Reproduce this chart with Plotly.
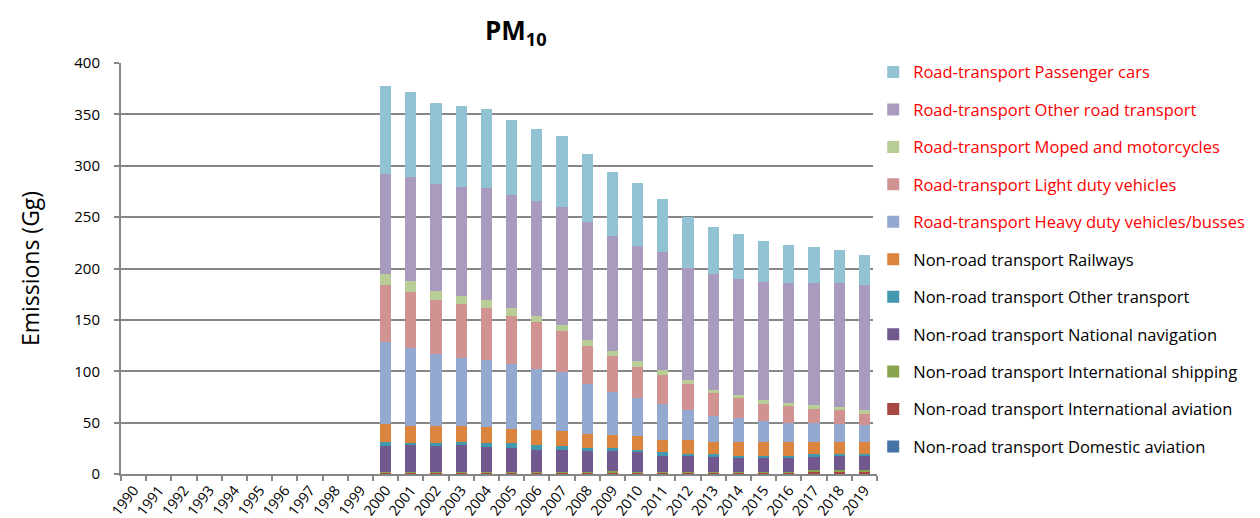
import plotly.graph_objects as go

years = [str(y) for y in range(1990, 2020)]
pad = [None] * 10  # 1990-1999: no data

dom_aviation = pad + [0.2, 0.2, 0.2, 0.2, 0.2, 0.2, 0.2, 0.2, 0.2, 0.2,
                      0.2, 0.2, 0.2, 0.2, 0.2, 0.2, 0.1, 0.1, 0.1, 0.1]
intl_aviation = pad + [1.2, 1.2, 1.2, 1.2, 1.2, 1.2, 1.2, 1.2, 1.2, 1.2,
                       1.2, 1.2, 1.2, 1.2, 1.2, 1.3, 1.7, 1.9, 1.9, 1.9]
intl_shipping = pad + [0.6, 0.6, 0.6, 0.6, 0.6, 0.6, 0.6, 0.6, 0.6, 1.6,
                       0.6, 0.6, 0.6, 0.6, 0.6, 0.5, 0.2, 1.5, 1.5, 1.5]
national_nav = pad + [25.2, 26.5, 25.5, 26.5, 24.5, 23.6, 21.7, 21.7, 20.7, 19.7,
                      19.7, 15.8, 15.8, 14.8, 13.8, 13.2, 13.8, 13.3, 14.3, 14.3]
other_transport = pad + [4.2, 2.0, 3.0, 2.9, 4.0, 4.9, 4.8, 3.8, 2.9, 2.9,
                         1.9, 3.9, 1.9, 2.3, 2.0, 2.0, 2.0, 2.3, 1.9, 1.9]
railways = pad + [16.9, 16.5, 16.5, 15.6, 15.5, 13.5, 14.5, 14.5, 13.4, 12.6,
                  13.0, 11.8, 13.7, 11.6, 12.9, 13.5, 12.9, 11.6, 11.7, 11.7]
hdv = pad + [79.7, 75.9, 69.4, 66.1, 65.2, 63.3, 59.4, 56.8, 48.2, 41.2,
             37.6, 34.3, 29.1, 25.3, 24.1, 21.2, 19.2, 19.2, 17.5, 16.6]
ldv = pad + [56.1, 54.6, 53.1, 52.5, 50.7, 46.7, 45.8, 40.6, 37.6, 35.9,
             30.2, 28.9, 25.3, 23.1, 19.4, 16.5, 16.6, 13.7, 13.6, 10.7]
moped = pad + [10.7, 10.5, 8.8, 7.8, 7.6, 7.9, 5.8, 5.8, 5.8, 4.7,
               5.8, 4.2, 3.9, 2.9, 2.9, 3.9, 2.9, 3.9, 3.1, 3.8]
other_road = pad + [97.2, 101.4, 104.1, 106.1, 109.0, 109.8, 111.9, 114.8, 114.8, 111.8,
                    111.8, 114.8, 109.0, 112.8, 112.9, 114.7, 116.6, 118.5, 120.4, 121.6]
passenger_cars = pad + [85.7, 82.6, 78.9, 78.9, 76.9, 73.0, 70.0, 69.1, 66.2, 62.2,
                        61.5, 52.4, 49.6, 45.8, 43.8, 40.0, 37.2, 35.3, 32.4, 29.4]

series = [
    ("Non-road transport Domestic aviation", dom_aviation, "#4572A7", False),
    ("Non-road transport International aviation", intl_aviation, "#AA4643", False),
    ("Non-road transport International shipping", intl_shipping, "#89A54E", False),
    ("Non-road transport National navigation", national_nav, "#71588F", False),
    ("Non-road transport Other transport", other_transport, "#4298AF", False),
    ("Non-road transport Railways", railways, "#DB843D", False),
    ("Road-transport Heavy duty vehicles/busses", hdv, "#93A9CF", True),
    ("Road-transport Light duty vehicles", ldv, "#D19392", True),
    ("Road-transport Moped and motorcycles", moped, "#B9CD96", True),
    ("Road-transport Other road transport", other_road, "#A99BBD", True),
    ("Road-transport Passenger cars", passenger_cars, "#92C3D4", True),
]

fig = go.Figure()
for i, (name, vals, color, road) in enumerate(series):
    label = f'<span style="color:#FF0000">{name}</span>' if road else name
    fig.add_trace(go.Bar(
        x=years, y=vals, name=label, marker_color=color,
        marker_line_width=0, legendgroup=f"g{i}", legendrank=1000 - i,
    ))

grid_col = "#868686"
fig.update_layout(
    width=1260, height=518,
    barmode="stack", bargap=0.56,
    plot_bgcolor="white", paper_bgcolor="white",
    margin=dict(l=113, r=391, t=55, b=52),
    font=dict(family="Open Sans, Lato, sans-serif", color="#000000"),
    title=dict(text="<b>PM<sub>10</sub></b>", x=0.403, xanchor="center",
               y=0.955, yanchor="middle", font=dict(size=26, color="#000000")),
    legend=dict(x=0.995, xanchor="left", y=1.02, yanchor="top",
                traceorder="grouped", tracegroupgap=13,
                font=dict(size=16.5, color="#000000"),
                itemwidth=30),
    xaxis=dict(type="category", tickangle=-52, tickfont=dict(size=14.5),
               showline=True, linecolor=grid_col, linewidth=2,
               ticks="outside", tickson="boundaries", ticklen=5,
               tickcolor=grid_col, tickwidth=2, showgrid=False,
               automargin=False),
    yaxis=dict(range=[0, 400], dtick=50, tickfont=dict(size=15),
               showgrid=True, gridcolor=grid_col, gridwidth=2,
               showline=True, linecolor=grid_col, linewidth=2,
               zeroline=False, ticks="outside", ticklen=5,
               tickcolor=grid_col, tickwidth=2, ticklabelstandoff=11,
               automargin=False,
               title=dict(text="Emissions (Gg)", font=dict(size=23), standoff=28)),
)
try:
    fig.update_layout(legend_maxheight=1.0)
except Exception:
    pass

fig.write_html("out.html")
